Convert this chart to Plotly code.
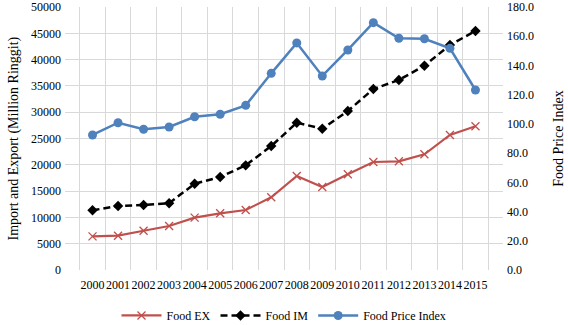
import plotly.graph_objects as go

years = [str(y) for y in range(2000, 2016)]
food_ex = [6400, 6520, 7470, 8370, 9950, 10780, 11410, 13820, 17870, 15780,
           18190, 20530, 20660, 22000, 25670, 27320]
food_im = [11350, 12170, 12360, 12680, 16410, 17680, 19900, 23570, 28000, 26860,
           30230, 34410, 36120, 38840, 42780, 45440]
food_price_index = [92.4, 100.8, 96.3, 97.9, 104.9, 106.6, 112.7, 134.6, 155.4, 132.8,
                    150.6, 169.3, 158.6, 158.3, 151.7, 123.2]
left_ticks = list(range(0, 50001, 5000))
right_ticks = list(range(0, 181, 20))

font_family = "Liberation Serif"

fig = go.Figure()
fig.add_trace(go.Scatter(
    x=years, y=food_ex, name="Food EX", mode="lines+markers",
    line=dict(color="#C0504D", width=2.2),
    marker=dict(symbol="x-thin", size=8, line=dict(color="#C0504D", width=1.3)),
))
fig.add_trace(go.Scatter(
    x=years, y=food_im, name="Food IM", mode="lines+markers",
    line=dict(color="#000000", width=2.5, dash="7px,4px"),
    marker=dict(symbol="diamond", size=8, color="#000000"),
))
fig.add_trace(go.Scatter(
    x=years, y=food_price_index, name="Food Price Index", mode="lines+markers",
    yaxis="y2",
    line=dict(color="#4F81BD", width=2.5),
    marker=dict(symbol="circle", size=9, color="#4F81BD"),
))

fig.update_layout(
    width=568, height=325,
    margin=dict(l=65, r=65, t=7, b=55, autoexpand=False),
    paper_bgcolor="white", plot_bgcolor="white",
    font=dict(family=font_family, size=12, color="#000000"),
    showlegend=True,
    legend=dict(orientation="h", x=0.5, xanchor="center", xref="container",
                y=0.074, yanchor="top", yref="container",
                font=dict(size=12), itemwidth=40),
    xaxis=dict(
        type="category", tickson="boundaries", showgrid=True, tickangle=0,
        gridcolor="#D9D9D9", gridwidth=1, ticks="", showline=False,
        zeroline=False, tickfont=dict(size=12), automargin=False,
        ticklabelstandoff=6,
    ),
    yaxis=dict(
        range=[0, 50000], tickvals=left_ticks, ticktext=[str(v) for v in left_ticks],
        showgrid=True, gridcolor="#D9D9D9", gridwidth=1, zeroline=False,
        showline=False, ticks="", automargin=False, ticklabelstandoff=3,
    ),
    yaxis2=dict(
        range=[0, 180], tickvals=right_ticks, ticktext=[f"{v:.1f}" for v in right_ticks],
        overlaying="y", side="right", showgrid=False, zeroline=False,
        showline=False, ticks="", automargin=False, ticklabelstandoff=3,
    ),
    annotations=[
        dict(text="Import and Export (Million Ringgit)", textangle=-90,
             xref="paper", yref="paper", x=-0.1187, y=0.5, xanchor="center", yanchor="middle",
             showarrow=False, font=dict(size=14)),
        dict(text="Food Price Index", textangle=-90,
             xref="paper", yref="paper", x=1.126, y=0.5, xanchor="center", yanchor="middle",
             showarrow=False, font=dict(size=14)),
    ],
)

fig.write_html("out.html", config={"displayModeBar": False},
               post_script="document.body.style.margin='0';")
